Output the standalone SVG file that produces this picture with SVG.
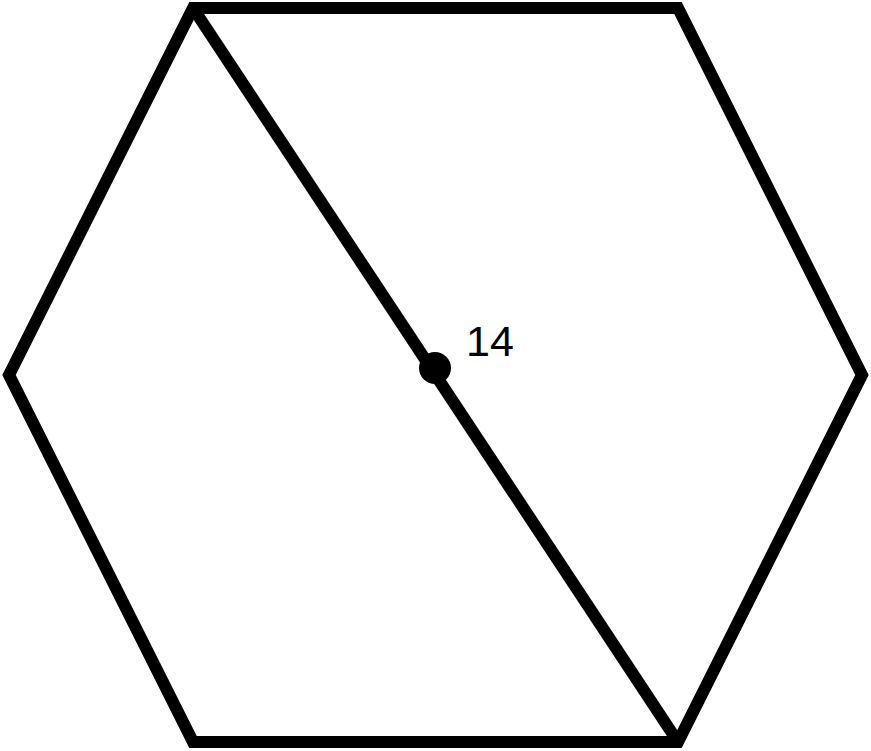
<svg xmlns="http://www.w3.org/2000/svg" width="871" height="751" viewBox="0 0 871 751">
<style>.s{fill:none;stroke:#000;stroke-width:12;stroke-linejoin:miter}</style>
<rect width="871" height="751" fill="#fff"/>
<g id="hexagon"><polygon class="s" points="193,8 678,8 862,375 678,742 193,742 9,375"/></g>
<g id="connectors"><line class="s" x1="193" y1="8" x2="678" y2="742"/></g>
<g id="center"><circle cx="435" cy="368" r="16" fill="#000"/></g>
<g id="label"><text x="466" y="356" font-family="Liberation Sans, Arial, sans-serif" font-size="43" fill="#000">14</text></g>
</svg>
